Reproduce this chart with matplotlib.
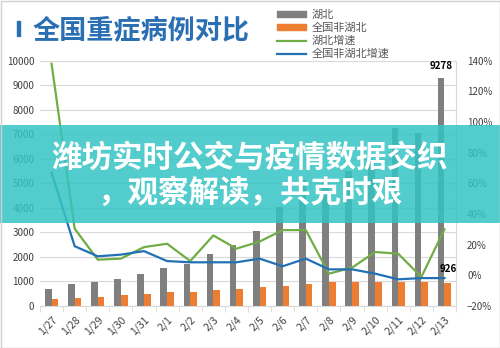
import matplotlib
matplotlib.use("Agg")
import matplotlib.pyplot as plt
from matplotlib.patches import Rectangle, Patch
from matplotlib.lines import Line2D
from matplotlib.ticker import FuncFormatter
import numpy as np

plt.rcParams['font.family'] = ['Noto Sans CJK SC', 'DejaVu Sans']

dates = ['1/27', '1/28', '1/29', '1/30', '1/31', '2/1', '2/2', '2/3', '2/4',
         '2/5', '2/6', '2/7', '2/8', '2/9', '2/10', '2/11', '2/12', '2/13']
hubei = [680, 895, 990, 1100, 1290, 1560, 1710, 2130, 2480,
         3050, 4030, 5150, 5230, 5500, 5910, 7240, 7060, 9278]
non_hubei = [270, 340, 380, 435, 500, 557, 580, 650, 705,
             770, 825, 895, 963, 990, 990, 963, 963, 926]
hubei_growth = [138, 30.4, 10.2, 10.9, 18.4, 20.6, 9.3, 26, 17.4,
                22, 29.5, 29.5, 1.1, 5, 15.2, 14.1, -1.1, 30]
non_hubei_growth = [67, 19, 12.4, 13.5, 15.8, 9.3, 8.5, 8.5, 8.5,
                    10.9, 5.9, 10.9, 3.9, 3.9, 1.1, -2.6, -1.8, -1.8]

GRAY = '#7f7f7f'
ORANGE = '#ed7d31'
GREEN = '#70ad47'
BLUE = '#2271b5'
TXT = '#404040'

fig = plt.figure(figsize=(5, 3.48), dpi=100)
ax = fig.add_axes([0.08, 0.1207, 0.832, 0.705])
ax2 = ax.twinx()

x = np.arange(len(dates))
w = 0.29
ax.bar(x - w / 2, hubei, w, color=GRAY, zorder=2)
ax.bar(x + w / 2, non_hubei, w, color=ORANGE, zorder=2)

ax.set_ylim(0, 10000)
ax.set_yticks(range(0, 10001, 1000))
ax.set_xlim(-0.5, len(dates) - 0.5)
ax.grid(axis='y', color='#d9d9d9', linewidth=0.8, zorder=0)
ax.set_axisbelow(True)
ax.tick_params(axis='y', length=0, labelsize=7, labelcolor=TXT, pad=4)
ax.set_xticks(x)
ax.set_xticklabels(dates, rotation=45, ha='right', rotation_mode='anchor',
                   fontsize=7.5, color=TXT)
ax.tick_params(axis='x', length=0, pad=6)
ax.set_xticks(np.arange(-0.5, len(dates), 1), minor=True)
ax.tick_params(axis='x', which='minor', length=4, color='#d9d9d9')
for s in ['top', 'left', 'right']:
    ax.spines[s].set_visible(False)
ax.spines['bottom'].set_color('#d9d9d9')

ax2.plot(x, hubei_growth, color=GREEN, linewidth=1.6, zorder=3)
ax2.plot(x, non_hubei_growth, color=BLUE, linewidth=1.6, zorder=3)
ax2.set_ylim(-20, 140)
ax2.set_yticks(range(-20, 141, 20))
ax2.yaxis.set_major_formatter(FuncFormatter(lambda v, p: f'{v:.0f}%'.replace('-', '\u2212')))
ax2.tick_params(axis='y', length=0, labelsize=7, labelcolor=TXT, pad=8)
for s in ['top', 'left', 'bottom']:
    ax2.spines[s].set_visible(False)
ax2.spines['right'].set_color('#d9d9d9')

# value labels on the last day
ax.annotate(f'{hubei[-1]}', (x[-1] - w / 2, hubei[-1]), xytext=(0, 9),
            textcoords='offset points', ha='center', va='center',
            fontsize=7, fontweight='bold', color='black', zorder=5)
ax.annotate(f'{non_hubei[-1]}', (x[-1] + w / 2, non_hubei[-1]), xytext=(0, 10),
            textcoords='offset points', ha='center', va='center',
            fontsize=7, fontweight='bold', color='black', zorder=5)

handles = [Patch(color=GRAY), Patch(color=ORANGE),
           Line2D([], [], color=GREEN, linewidth=1.6),
           Line2D([], [], color=BLUE, linewidth=1.6)]
labels = ['湖北', '全国非湖北', '湖北增速', '全国非湖北增速']
leg = fig.legend(handles, labels, loc='upper left', bbox_to_anchor=(0.545, 0.985),
                 frameon=False, fontsize=8, handlelength=2.6, handleheight=0.5,
                 labelspacing=0.25, handletextpad=0.5, borderaxespad=0)
for t in leg.get_texts():
    t.set_color('#595959')

# title
fig.add_artist(Rectangle((0.034, 0.896), 0.006, 0.043, transform=fig.transFigure,
                         color='#2b6fb3', zorder=4))
fig.text(0.066, 0.914, '全国重症病例对比', ha='left', va='center', fontsize=19.5,
         fontweight='bold', color='#2b6fb3')

# banner across the middle
fig.add_artist(Rectangle((0, 1 - 222.5 / 348), 1, 97.5 / 348, transform=fig.transFigure,
                         color='#34c4c3', alpha=0.85, zorder=10, linewidth=0))
fig.text(0.5, 1 - 158 / 348, '潍坊实时公交与疫情数据交织', ha='center', va='center',
         fontsize=22, fontweight='bold', color='white', zorder=11)
fig.text(0.5, 1 - 193 / 348, '，观察解读，共克时艰', ha='center', va='center',
         fontsize=22, fontweight='bold', color='white', zorder=11)

fig.add_artist(Rectangle((0.001, 0.001), 0.998, 0.997, transform=fig.transFigure,
                         fill=False, edgecolor='#d0d0d0', linewidth=1, zorder=12))

fig.savefig('out.png', dpi=100)
